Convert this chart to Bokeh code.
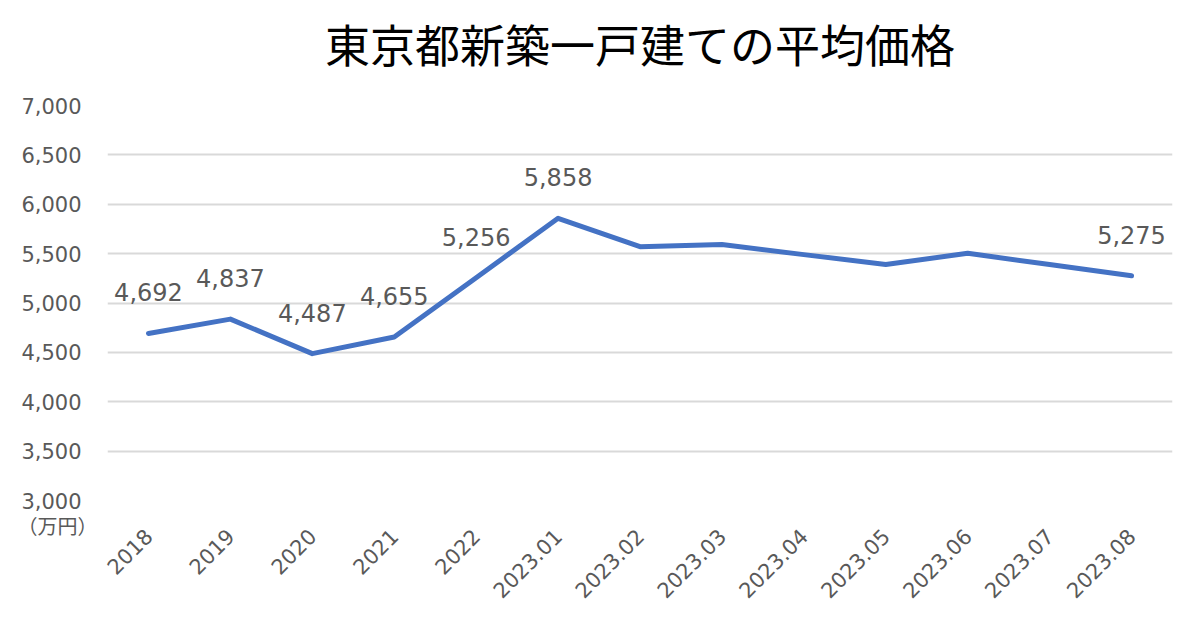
import math
from bokeh.plotting import figure
from bokeh.models import ColumnDataSource, NumeralTickFormatter, FixedTicker, Range1d, Label
from bokeh.core.properties import value
from bokeh.embed import file_html
from bokeh.resources import INLINE

categories = ["2018", "2019", "2020", "2021", "2022", "2023.01", "2023.02",
              "2023.03", "2023.04", "2023.05", "2023.06", "2023.07", "2023.08"]
prices = [4692, 4837, 4487, 4655, 5256, 5858, 5570, 5592, 5490, 5390, 5503, 5390, 5275]
labelled = ["2018", "2019", "2020", "2021", "2022", "2023.01", "2023.08"]
y_ticks = [3000, 3500, 4000, 4500, 5000, 5500, 6000, 6500, 7000]
title_text = "東京都新築一戸建ての平均価格"
unit_text = "（万円）"

FONT = "Noto Sans CJK JP"
NUMFONT = "DejaVu Sans"
GRAY = "#595959"

src = ColumnDataSource(dict(x=categories, y=prices))
lab_src = ColumnDataSource(dict(
    x=[c for c in categories if c in labelled],
    y=[v for c, v in zip(categories, prices) if c in labelled],
    t=[f"{v:,}" for c, v in zip(categories, prices) if c in labelled],
))

p = figure(width=1200, height=630, x_range=categories, y_range=Range1d(3000, 7000),
           output_backend="svg", toolbar_location=None,
           min_border_left=107, min_border_right=28, min_border_top=105, min_border_bottom=130)
p.x_range.range_padding = 0
p.outline_line_color = None
p.background_fill_color = "white"

p.title.text = title_text
p.title.align = "center"
p.title.vertical_align = "middle"
p.title.text_font = FONT
p.title.text_font_size = "45px"
p.title.text_font_style = "normal"
p.title.text_color = "#000000"
p.title.standoff = 0

p.line("x", "y", source=src, line_color="#4472C4", line_width=5, line_join="round", line_cap="round")
p.text("x", "y", text="t", source=lab_src, text_align="center", text_baseline="middle",
       y_offset=-41, text_font=value(NUMFONT), text_font_size="24px", text_color=GRAY)

p.yaxis.ticker = FixedTicker(ticks=y_ticks)
p.yaxis.formatter = NumeralTickFormatter(format="0,0")
p.yaxis.axis_line_color = None
p.yaxis.major_tick_line_color = None
p.yaxis.minor_tick_line_color = None
p.yaxis.major_label_text_font = NUMFONT
p.yaxis.major_label_text_font_size = "21px"
p.yaxis.major_label_text_color = GRAY
p.yaxis.major_label_standoff = 20

p.xaxis.axis_line_color = None
p.xaxis.major_tick_line_color = None
p.xaxis.major_label_orientation = math.pi / 4
p.xaxis.major_label_text_font = NUMFONT
p.xaxis.major_label_text_font_size = "21px"
p.xaxis.major_label_text_color = GRAY
p.xaxis.major_label_standoff = 26

p.xgrid.grid_line_color = None
p.ygrid.grid_line_color = "#D9D9D9"
p.ygrid.grid_line_width = 2

p.add_layout(Label(x=-50, y=-420, x_units="screen", y_units="screen", text=unit_text,
                   text_align="center", text_baseline="middle", text_font=FONT,
                   text_font_size="20px", text_color=GRAY), "above")

open("out.html", "w").write(file_html(p, INLINE))
